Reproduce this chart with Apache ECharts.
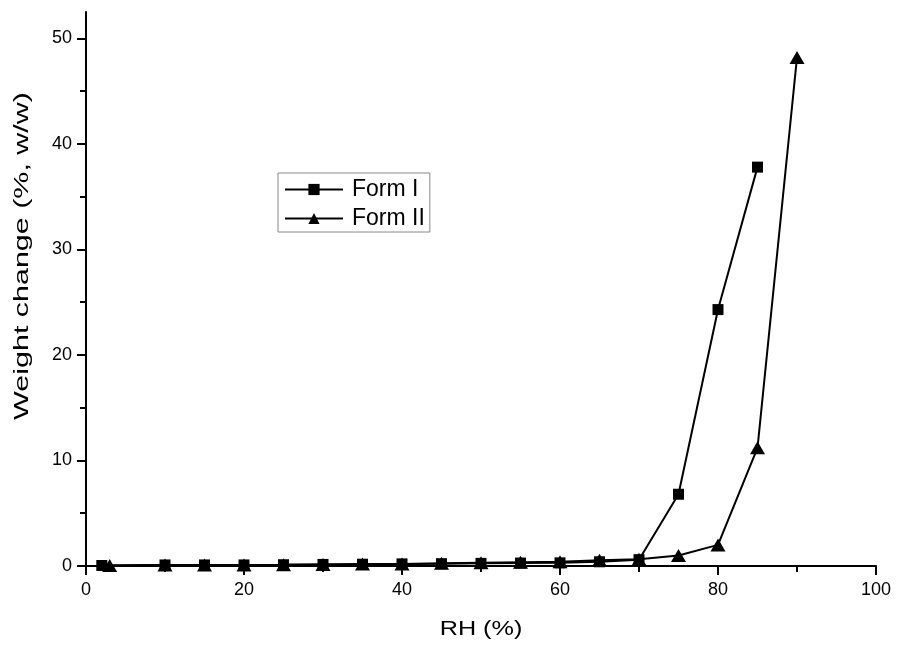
<!DOCTYPE html>
<html>
<head>
<meta charset="utf-8">
<script src="https://cdn.jsdelivr.net/npm/echarts@6/dist/echarts.min.js"></script>
<style>html,body{margin:0;padding:0;background:#fff}#c{width:898px;height:645px}</style>
</head>
<body>
<div id="c"></div>
<script>
const formI_x = [2, 10, 15, 20, 25, 30, 35, 40, 45, 50, 55, 60, 65, 70, 75, 80, 85];
const formI_y = [0.05, 0.1, 0.1, 0.1, 0.12, 0.15, 0.17, 0.2, 0.22, 0.25, 0.28, 0.3, 0.4, 0.6, 6.8, 24.3, 37.8];
const formII_x = [3, 10, 15, 20, 25, 30, 35, 40, 45, 50, 55, 60, 65, 70, 75, 80, 85, 90];
const formII_y = [0.05, 0.1, 0.1, 0.1, 0.12, 0.15, 0.18, 0.2, 0.25, 0.3, 0.35, 0.4, 0.55, 0.65, 1.0, 2.0, 11.2, 48.2];
const yMajorTicks = [0, 10, 20, 30, 40, 50];
const yMinorTicks = [5, 15, 25, 35, 45];
const seriesNames = ['Form I', 'Form II'];
const xTitle = 'RH (%)';
const yTitle = 'Weight change (%, w/w)';

const font = 'Liberation Sans, Arial, sans-serif';
const chart = echarts.init(document.getElementById('c'), null, {renderer: 'canvas'});
const axisLine = {show: true, onZero: false, lineStyle: {color: '#000', width: 2}};
chart.setOption({
  animation: false,
  backgroundColor: '#fff',
  grid: {left: 86, right: 22, top: 12, bottom: 79, containLabel: false},
  legend: {
    left: 278, top: 173, orient: 'vertical',
    data: seriesNames,
    itemWidth: 58, itemHeight: 14, itemGap: 6,
    padding: [5, 5, 2, 6],
    borderColor: '#888', borderWidth: 1,
    textStyle: {fontFamily: font, fontSize: 23, color: '#000', padding: [0, 0, 0, 4]}
  },
  graphic: [{
    type: 'text', x: 22, y: 256, rotation: Math.PI / 2, scaleX: 1.45,
    style: {text: yTitle, fontFamily: font, fontSize: 21, fill: '#000', align: 'center', verticalAlign: 'middle'}
  }, {
    type: 'text', x: 481, y: 629, scaleX: 1.2,
    style: {text: xTitle, fontFamily: font, fontSize: 21, fill: '#000', align: 'center', verticalAlign: 'middle'}
  }],
  xAxis: {
    type: 'value', min: 0, max: 100, interval: 20,
    axisLine: axisLine,
    axisTick: {show: true, inside: false, length: 9, lineStyle: {color: '#000', width: 2}},
    minorTick: {show: true, splitNumber: 2, length: 6, lineStyle: {color: '#000', width: 2}},
    axisLabel: {margin: 15, fontFamily: font, fontSize: 18, color: '#000'},
    splitLine: {show: false}, minorSplitLine: {show: false}
  },
  yAxis: [{
    type: 'value', min: 0, max: 52.5,
    axisLine: axisLine,
    axisTick: {show: true, length: 9, customValues: yMajorTicks, lineStyle: {color: '#000', width: 2}},
    axisLabel: {margin: 14, fontFamily: font, fontSize: 18, color: '#000', customValues: yMajorTicks},
    splitLine: {show: false}
  }, {
    type: 'value', min: 0, max: 52.5, position: 'left',
    axisLine: {show: false},
    axisTick: {show: true, length: 6, customValues: yMinorTicks, lineStyle: {color: '#000', width: 2}},
    axisLabel: {show: false},
    splitLine: {show: false}
  }],
  series: [{
    name: seriesNames[0], type: 'line', yAxisIndex: 0,
    data: formI_x.map((x, i) => [x, formI_y[i]]),
    symbol: 'rect', symbolSize: 11,
    itemStyle: {color: '#000'},
    lineStyle: {color: '#000', width: 2}
  }, {
    name: seriesNames[1], type: 'line', yAxisIndex: 0,
    data: formII_x.map((x, i) => [x, formII_y[i]]),
    symbol: 'triangle', symbolSize: [15, 13],
    itemStyle: {color: '#000'},
    lineStyle: {color: '#000', width: 2}
  }]
});
</script>
</body>
</html>
